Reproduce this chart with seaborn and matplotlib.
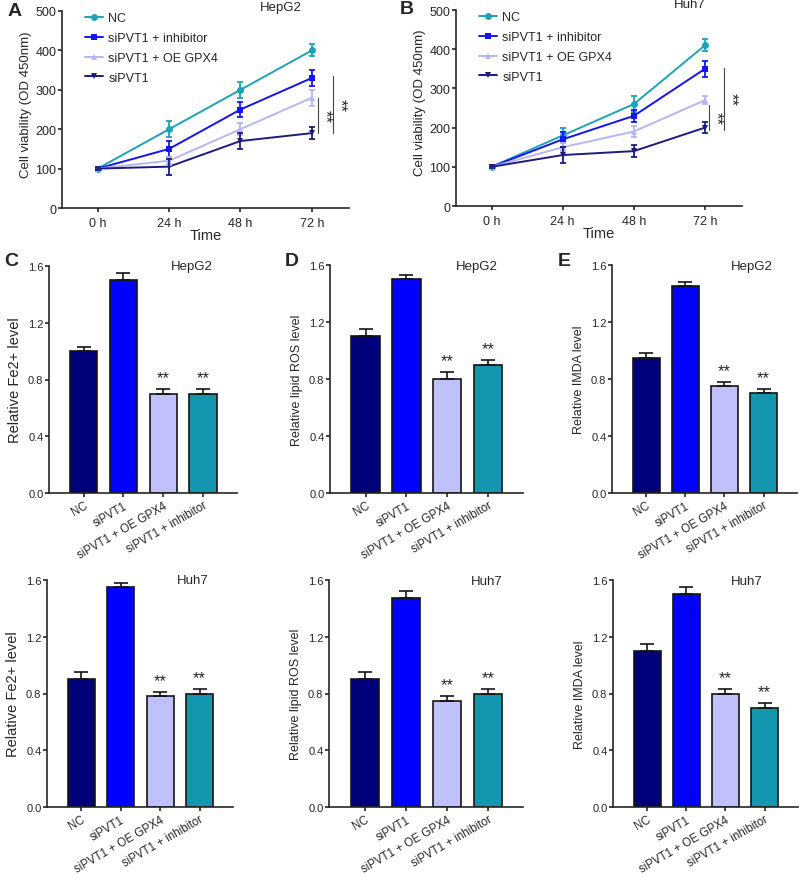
import numpy as np
import pandas as pd

import matplotlib
matplotlib.use("Agg")
import matplotlib.pyplot as plt
import seaborn as sns

sns.set_style("ticks")
plt.rcParams['font.family'] = ['Liberation Sans', 'DejaVu Sans']
plt.rcParams['axes.linewidth'] = 1.2
plt.rcParams['xtick.major.width'] = 1.2
plt.rcParams['ytick.major.width'] = 1.2
plt.rcParams['xtick.major.size'] = 3
plt.rcParams['ytick.major.size'] = 3

# ---- cell viability data (A, B) ----
times = ['0 h', '24 h', '48 h', '72 h']
line_groups = ['NC', 'siPVT1 + inhibitor', 'siPVT1 + OE GPX4', 'siPVT1']

hepg2_nc = [100, 200, 300, 400]
hepg2_inh = [100, 150, 250, 330]
hepg2_oe = [100, 120, 200, 280]
hepg2_si = [100, 105, 170, 190]
hepg2_nc_err = [3, 20, 20, 15]
hepg2_inh_err = [3, 20, 20, 20]
hepg2_oe_err = [3, 10, 15, 20]
hepg2_si_err = [3, 20, 20, 15]

huh7_nc = [100, 180, 260, 410]
huh7_inh = [100, 170, 230, 350]
huh7_oe = [100, 150, 190, 270]
huh7_si = [100, 130, 140, 200]
huh7_nc_err = [3, 20, 20, 15]
huh7_inh_err = [3, 20, 15, 20]
huh7_oe_err = [3, 10, 15, 10]
huh7_si_err = [3, 20, 15, 15]

# ---- bar data (C, D, E) ----
bar_groups = ['NC', 'siPVT1', 'siPVT1 + OE GPX4', 'siPVT1 + inhibitor']
fe_hepg2 = [1.0, 1.5, 0.7, 0.7]
fe_hepg2_err = [0.03, 0.05, 0.03, 0.03]
ros_hepg2 = [1.1, 1.5, 0.8, 0.9]
ros_hepg2_err = [0.05, 0.03, 0.05, 0.03]
mda_hepg2 = [0.95, 1.45, 0.75, 0.7]
mda_hepg2_err = [0.03, 0.03, 0.03, 0.03]
fe_huh7 = [0.9, 1.55, 0.78, 0.8]
fe_huh7_err = [0.05, 0.03, 0.03, 0.03]
ros_huh7 = [0.9, 1.47, 0.75, 0.8]
ros_huh7_err = [0.05, 0.05, 0.03, 0.03]
mda_huh7 = [1.1, 1.5, 0.8, 0.7]
mda_huh7_err = [0.05, 0.05, 0.03, 0.03]

line_colors = {'NC': '#1ea3b6', 'siPVT1 + inhibitor': '#1414f0',
               'siPVT1 + OE GPX4': '#b6b6f6', 'siPVT1': '#1c1c80'}
line_markers = {'NC': 'o', 'siPVT1 + inhibitor': 's',
                'siPVT1 + OE GPX4': '^', 'siPVT1': 'v'}
bar_colors = ['#00007a', '#0000ff', '#c0c0fa', '#1496b0']

W, H = 800, 878
fig = plt.figure(figsize=(W / 100, H / 100), dpi=100)


def rect(l, r, t, b):
    return [l / W, 1 - b / H, (r - l) / W, (b - t) / H]


def px(x, y):
    return x / W, 1 - y / H


def viability(ax, vals, errs, title_xy, title, stars):
    rows = []
    for g, v in zip(line_groups, vals):
        for i, y in enumerate(v):
            rows.append({'x': i, 'value': y, 'group': g})
    df = pd.DataFrame(rows)
    sns.lineplot(data=df, x='x', y='value', hue='group', style='group',
                 hue_order=line_groups, style_order=line_groups,
                 palette=line_colors, markers=line_markers, dashes=False,
                 markersize=5, markeredgewidth=0, linewidth=1.4, ax=ax)
    for g, v, e in zip(line_groups, vals, errs):
        ax.errorbar(range(len(times)), v, yerr=e, fmt='none',
                    ecolor=line_colors[g], elinewidth=1.3, capsize=2.5,
                    capthick=1.3)
    handles, labels = ax.get_legend_handles_labels()
    ax.legend(handles, labels, loc='upper left', bbox_to_anchor=(0.04, 1.05),
              frameon=False, fontsize=9, handlelength=1.5,
              labelspacing=0.62, handletextpad=0.4)
    ax.set_xlim(-0.5, 3.52)
    ax.set_ylim(0, 500)
    ax.set_xticks(range(len(times)))
    ax.set_xticklabels(times, fontsize=9)
    ax.set_yticks(range(0, 501, 100))
    ax.tick_params(axis='y', labelsize=9, pad=1)
    ax.set_xlabel('Time', fontsize=10.5, labelpad=-1)
    ax.set_ylabel('Cell viability (OD 450nm)', fontsize=9.5)
    ax.yaxis.set_label_coords(-0.105, 0.53)
    sns.despine(ax=ax)
    fig.text(*px(*title_xy), title, fontsize=9.5, ha='center', va='center')
    # significance marks
    for xl, y0, y1 in stars:
        ax.plot([xl, xl], [y0, y1], color='#444444', lw=0.8)
        ax.text(xl + 0.1, (y0 + y1) / 2, '**', rotation=-90, fontsize=12,
                ha='center', va='center')


def bars(ax, vals, errs, ylabel, ylab_size, title, title_xy):
    df = pd.DataFrame({'group': bar_groups, 'value': vals})
    sns.barplot(data=df, x='group', y='value', hue='group',
                palette=bar_colors, order=bar_groups, hue_order=bar_groups,
                errorbar=None, width=0.69, edgecolor='#151515',
                linewidth=1.2, saturation=1, legend=False, ax=ax)
    ax.errorbar(range(len(bar_groups)), vals,
                yerr=[np.zeros(len(vals)), errs], fmt='none', ecolor='#151515',
                elinewidth=1.2, capsize=5, capthick=1.2)
    for i in [2, 3]:
        ax.text(i, vals[i] + errs[i] + 0.08, '**', ha='center', va='center',
                fontsize=12)
    ax.set_xlim(-0.87, 3.85)
    ax.set_ylim(0, 1.6)
    ax.set_yticks([0, 0.4, 0.8, 1.2, 1.6])
    ax.set_yticklabels(['0.0', '0.4', '0.8', '1.2', '1.6'])
    ax.tick_params(axis='y', labelsize=8, pad=1)
    ax.tick_params(axis='x', pad=1.5)
    ax.set_xticks(range(len(bar_groups)))
    ax.set_xticklabels(bar_groups, rotation=30, ha='right',
                       rotation_mode='anchor', fontsize=8.3)
    ax.set_xlabel('')
    ax.set_ylabel(ylabel, fontsize=ylab_size, labelpad=4)
    sns.despine(ax=ax)
    fig.text(*px(*title_xy), title, fontsize=9.5, ha='center', va='center')


axA = fig.add_axes(rect(62, 349, 12, 209))
viability(axA, [hepg2_nc, hepg2_inh, hepg2_oe, hepg2_si],
          [hepg2_nc_err, hepg2_inh_err, hepg2_oe_err, hepg2_si_err],
          (281, 8), 'HepG2', [(3.09, 190, 280), (3.30, 190, 335)])

axB = fig.add_axes(rect(456, 742, 11, 207))
viability(axB, [huh7_nc, huh7_inh, huh7_oe, huh7_si],
          [huh7_nc_err, huh7_inh_err, huh7_oe_err, huh7_si_err],
          (690, 5), 'Huh7', [(3.06, 195, 258), (3.26, 195, 352)])

bars(fig.add_axes(rect(49, 237, 267, 494)), fe_hepg2, fe_hepg2_err,
     'Relative Fe2+ level', 10.5, 'HepG2', (192, 267))
bars(fig.add_axes(rect(330, 523, 266, 494)), ros_hepg2, ros_hepg2_err,
     'Relative lipid ROS level', 9, 'HepG2', (477, 267))
bars(fig.add_axes(rect(612, 797, 266, 494)), mda_hepg2, mda_hepg2_err,
     'Relative IMDA level', 9, 'HepG2', (752, 267))
bars(fig.add_axes(rect(47, 233, 581, 808)), fe_huh7, fe_huh7_err,
     'Relative Fe2+ level', 10.5, 'Huh7', (193, 581))
bars(fig.add_axes(rect(329, 523, 581, 808)), ros_huh7, ros_huh7_err,
     'Relative lipid ROS level', 9, 'Huh7', (487, 582))
bars(fig.add_axes(rect(613, 798, 581, 808)), mda_huh7, mda_huh7_err,
     'Relative IMDA level', 9, 'Huh7', (747, 582))

for letter, xy in [('A', (15, 12)), ('B', (407, 9)), ('C', (11, 262)),
                   ('D', (292, 261)), ('E', (564, 261))]:
    fig.text(*px(*xy), letter, fontsize=14, fontweight='bold',
             ha='center', va='center')

fig.savefig('out.png', dpi=100)
